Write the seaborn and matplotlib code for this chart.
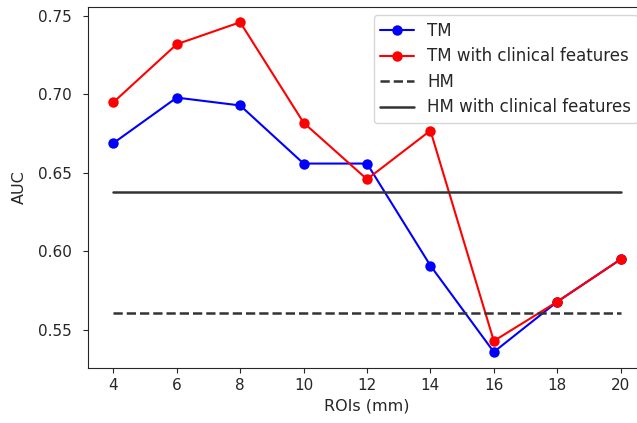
import numpy as np
import pandas as pd
import matplotlib
matplotlib.use("Agg")
import matplotlib.pyplot as plt
import seaborn as sns

# ROI sizes (mm) and AUC values
rois = [4, 6, 8, 10, 12, 14, 16, 18, 20]
tm_auc = [0.669, 0.698, 0.693, 0.656, 0.656, 0.591, 0.536, 0.568, 0.595]
tm_clin_auc = [0.695, 0.732, 0.746, 0.682, 0.646, 0.677, 0.543, 0.568, 0.595]
hm_auc = 0.561
hm_clin_auc = 0.638

sns.set_style("ticks")
plt.rcParams['font.family'] = ['DejaVu Sans']

fig, ax = plt.subplots(figsize=(6.37, 4.23), dpi=100)
fig.subplots_adjust(left=88/637, right=646/637, top=1-7/423, bottom=1-368/423)

sns.lineplot(x=rois, y=tm_auc, color="blue", marker="o", markersize=7.5,
             markeredgewidth=0, label="TM", ax=ax)
sns.lineplot(x=rois, y=tm_clin_auc, color="red", marker="o", markersize=7.5,
             markeredgewidth=0, label="TM with clinical features", ax=ax)
sns.lineplot(x=rois, y=[hm_auc] * len(rois), color="#333333", linestyle="--",
             linewidth=1.8, label="HM", ax=ax)
sns.lineplot(x=rois, y=[hm_clin_auc] * len(rois), color="#333333", linestyle="-",
             linewidth=1.8, label="HM with clinical features", ax=ax)

ax.set_xticks(rois)
ax.set_yticks([0.55, 0.60, 0.65, 0.70, 0.75])
ax.set_xlim(3.2, 20.8)
ax.set_ylim(0.5258, 0.7557)
ax.tick_params(labelsize=11)
ax.tick_params(axis="y", pad=8)
ax.set_xlabel("ROIs (mm)", fontsize=11.5)
ax.set_ylabel("AUC", fontsize=11.5, labelpad=8)
ax.legend(loc="upper right", fontsize=12, labelspacing=0.45)

plt.savefig("out.png", dpi=100)
